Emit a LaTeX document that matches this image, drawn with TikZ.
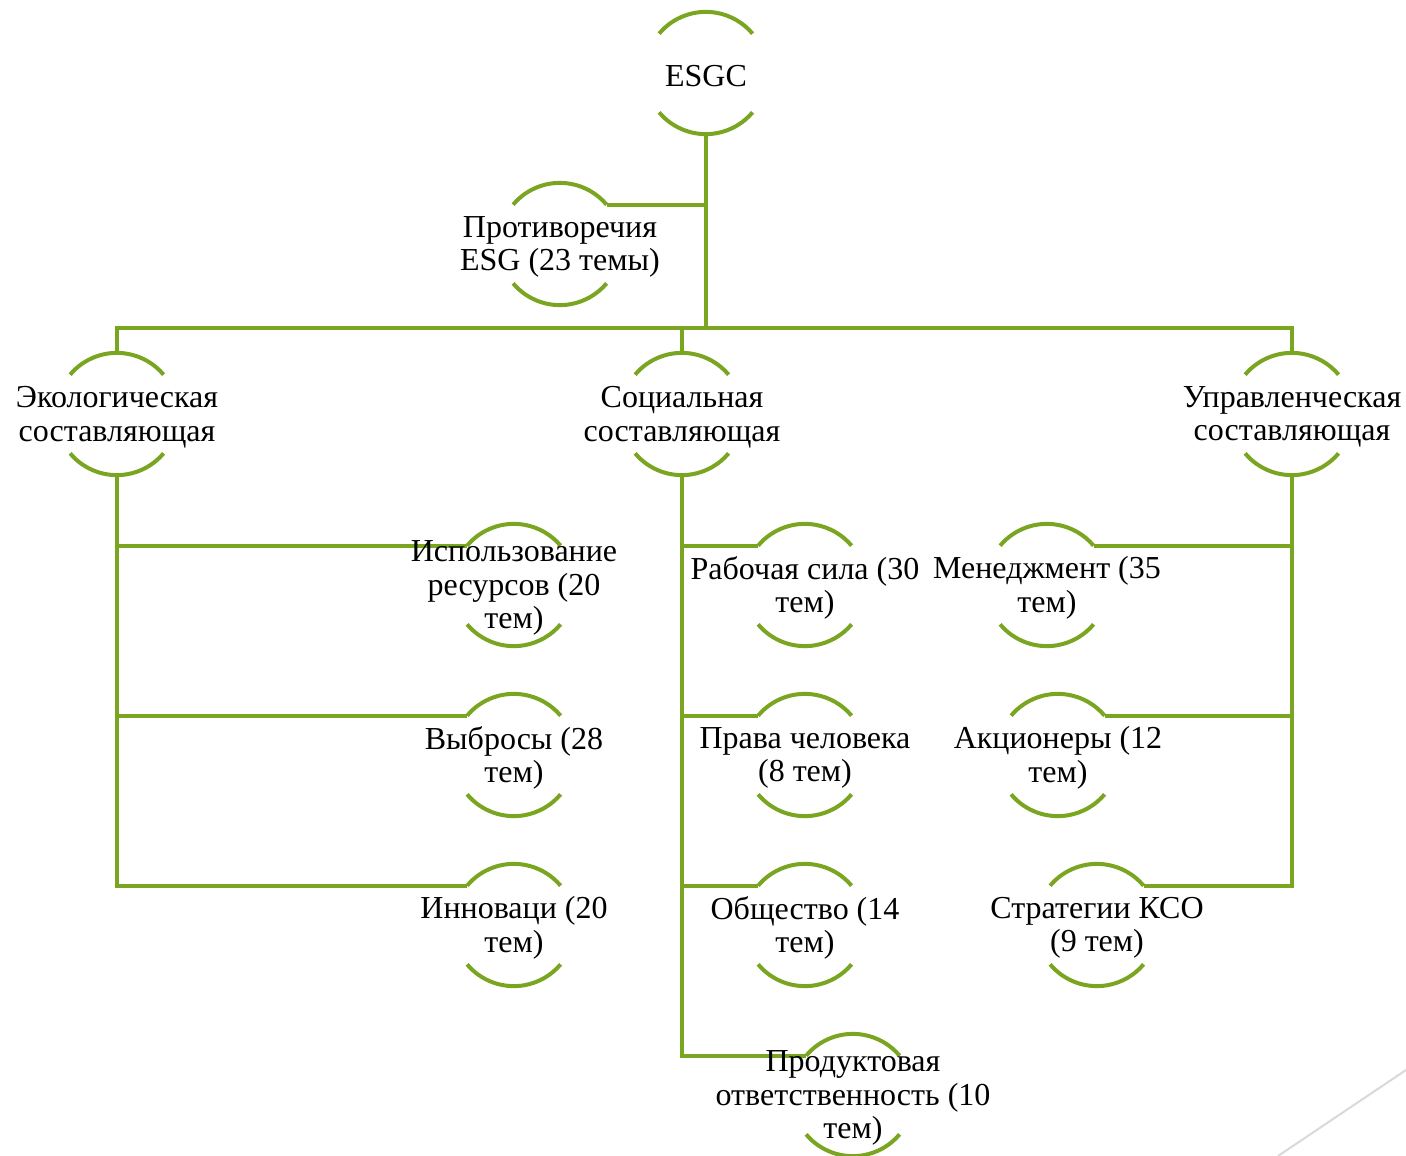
\documentclass[tikz,border=0pt]{standalone}
\usepackage{fontspec}
\setmainfont{Liberation Serif}
\definecolor{esgreen}{RGB}{122,165,33}
\definecolor{decogray}{RGB}{217,217,217}
\begin{document}
\begin{tikzpicture}[x=1pt,y=1pt,
  ring/.style={circle,minimum size=122pt,inner sep=0pt},
  lbl/.style={align=center,font=\fontsize{32}{33.5}\selectfont,inner sep=0pt,yshift=-3pt},
  gline/.style={draw=esgreen,line width=4pt},
  deco/.style={draw=decogray,line width=2pt}]
\useasboundingbox (0,0) rectangle (1406,-1156);

% decorative line
\coordinate (d1) at (1278,-1156);
\coordinate (d2) at (1406,-1070);
\draw[deco] (d1) -- (d2);

% rings
\node[ring] (esgc) at (706,-73) {};
\node[ring] (prot) at (560,-244) {};
\node[ring] (eco) at (117,-414) {};
\node[ring] (soc) at (682,-414) {};
\node[ring] (upr) at (1292,-414) {};
\node[ring] (isp) at (514,-585) {};
\node[ring] (vyb) at (514,-755) {};
\node[ring] (inn) at (514,-925) {};
\node[ring] (rab) at (805,-585) {};
\node[ring] (prav) at (805,-755) {};
\node[ring] (obsh) at (805,-925) {};
\node[ring] (prod) at (853,-1095) {};
\node[ring] (men) at (1047,-585) {};
\node[ring] (akc) at (1058,-755) {};
\node[ring] (str) at (1097,-925) {};

\foreach \n in {esgc,prot,eco,soc,upr,isp,vyb,inn,rab,prav,obsh,prod,men,akc,str}{
  \draw[gline] (\n.140) arc[start angle=140,end angle=40,radius=61pt];
  \draw[gline] (\n.220) arc[start angle=220,end angle=320,radius=61pt];
}

% connectors
\coordinate (bar) at (0,-328);
\draw[gline] (esgc.south) -- (esgc.south |- bar);
\draw[gline] (prot.40) -- (prot.40 -| esgc.south);
\draw[gline] (eco.north) -- (eco.north |- bar) -- (upr.north |- bar) -- (upr.north);
\draw[gline] (soc.north) -- (soc.north |- bar);

\draw[gline] (eco.south) -- (eco.south |- inn.140) -- (inn.140);
\draw[gline] (eco.south |- isp.140) -- (isp.140);
\draw[gline] (eco.south |- vyb.140) -- (vyb.140);

\draw[gline] (soc.south) -- (soc.south |- prod.140) -- (prod.140);
\draw[gline] (soc.south |- rab.140) -- (rab.140);
\draw[gline] (soc.south |- prav.140) -- (prav.140);
\draw[gline] (soc.south |- obsh.140) -- (obsh.140);

\draw[gline] (upr.south) -- (upr.south |- str.40) -- (str.40);
\draw[gline] (upr.south |- men.40) -- (men.40);
\draw[gline] (upr.south |- akc.40) -- (akc.40);

% labels
\node[lbl] (esgc-t) at (esgc) {ESGC};
\node[lbl] (prot-t) at (prot) {Противоречия\\ESG (23 темы)};
\node[lbl] (eco-t) at (eco) {Экологическая\\составляющая};
\node[lbl] (soc-t) at (soc) {Социальная\\составляющая};
\node[lbl] (upr-t) at (upr) {Управленческая\\составляющая};
\node[lbl] (isp-t) at (isp) {Использование\\ресурсов (20\\тем)};
\node[lbl] (vyb-t) at (vyb) {Выбросы (28\\тем)};
\node[lbl] (inn-t) at (inn) {Инноваци (20\\тем)};
\node[lbl] (rab-t) at (rab) {Рабочая сила (30\\тем)};
\node[lbl] (prav-t) at (prav) {Права человека\\(8 тем)};
\node[lbl] (obsh-t) at (obsh) {Общество (14\\тем)};
\node[lbl] (prod-t) at (prod) {Продуктовая\\ответственность (10\\тем)};
\node[lbl] (men-t) at (men) {Менеджмент (35\\тем)};
\node[lbl] (akc-t) at (akc) {Акционеры (12\\тем)};
\node[lbl] (str-t) at (str) {Стратегии КСО\\(9 тем)};
\end{tikzpicture}
\end{document}
